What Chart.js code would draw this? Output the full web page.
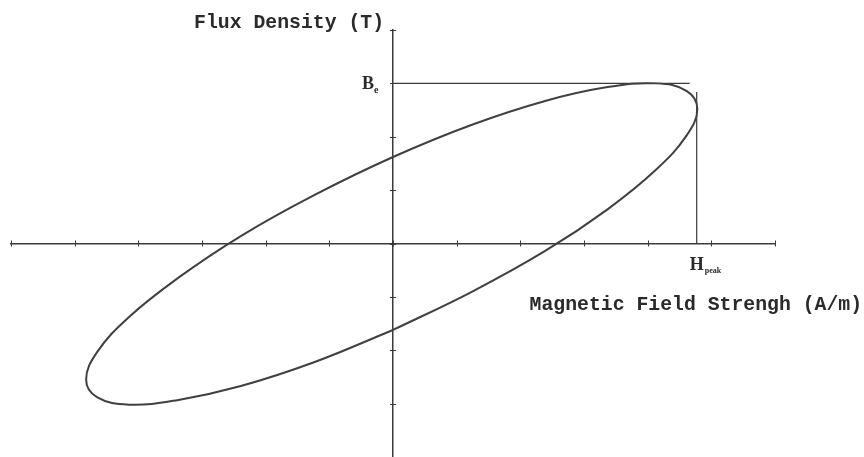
<!DOCTYPE html>
<html>
<head>
<meta charset="utf-8">
<script src="https://cdn.jsdelivr.net/npm/chart.js@4/dist/chart.umd.min.js"></script>
<style>
  body { margin: 0; background: #fff; }
  canvas { display: block; }
</style>
</head>
<body>
<canvas id="loop" width="864" height="457"></canvas>
<script>
// B-H loop, read round the curve (H in tick units, B in tick units)
let hField = [0, 1.23, 2.39, 3.37, 4.13, 4.61, 4.78, 4.61, 4.13, 3.37, 2.39, 1.23,
  0, -1.23, -2.39, -3.37, -4.15, -4.65, -4.82, -4.65, -4.15, -3.37, -2.39, -1.23, 0];
let bFlux = [-1.62, -0.91, -0.14, 0.64, 1.38, 2.02, 2.52, 2.86, 3.0, 2.93, 2.67, 2.22,
  1.62, 0.91, 0.14, -0.64, -1.38, -2.04, -2.55, -2.88, -3.02, -2.93, -2.67, -2.22, -1.62];

// marker lines for B peak and H peak
let bPeak = 3.0;
let bLineEnd = 4.66;
let hPeak = 4.77;
let hLineTop = 2.84;

// axis ranges (tick every unit)
let xMin = -6, xMax = 6;
let yMin = -4, yMax = 4;

let ink = "#3a3a3a";
let monoFont = "bold 19.8px 'Liberation Mono', monospace";

let loopPoints = hField.map(function (h, i) {
  return { x: h, y: bFlux[i] };
});

// small cross ticks on both axes
let crossTicks = {
  id: "crossTicks",
  afterDraw: function (chart) {
    let c = chart.ctx;
    let xs = chart.scales.x;
    let ys = chart.scales.y;
    let x0 = xs.getPixelForValue(0);
    let y0 = ys.getPixelForValue(0);
    c.save();
    c.strokeStyle = ink;
    c.lineWidth = 1;
    xs.ticks.forEach(function (t) {
      let px = Math.round(xs.getPixelForValue(t.value)) + 0.5;
      c.beginPath();
      c.moveTo(px, y0 - 3);
      c.lineTo(px, y0 + 3);
      c.stroke();
    });
    ys.ticks.forEach(function (t) {
      let py = Math.round(ys.getPixelForValue(t.value)) + 0.5;
      c.beginPath();
      c.moveTo(x0 - 3, py);
      c.lineTo(x0 + 3, py);
      c.stroke();
    });
    c.restore();
  }
};

// axis names and the B / H markers
let axisText = {
  id: "axisText",
  afterDraw: function (chart) {
    let c = chart.ctx;
    let xs = chart.scales.x;
    let ys = chart.scales.y;
    let x0 = xs.getPixelForValue(0);
    c.save();
    c.fillStyle = "#2a2a2a";
    c.textBaseline = "alphabetic";

    c.font = monoFont;
    c.textAlign = "right";
    c.fillText("Flux Density (T)", x0 - 9, 28);
    c.fillText("Magnetic Field Strengh (A/m)", 862, 310);

    // B with subscript
    let by = ys.getPixelForValue(bPeak);
    c.font = "bold 18px 'Liberation Serif', serif";
    c.textAlign = "left";
    c.fillText("B", x0 - 31, by + 6);
    c.font = "bold 10px 'Liberation Serif', serif";
    c.fillText("e", x0 - 19, by + 10);

    // H with subscript
    let hx = xs.getPixelForValue(hPeak);
    let y0 = ys.getPixelForValue(0);
    c.font = "bold 18px 'Liberation Serif', serif";
    c.fillText("H", hx - 7, y0 + 26);
    c.font = "bold 8px 'Liberation Serif', serif";
    c.fillText("peak", hx + 8, y0 + 29);
    c.restore();
  }
};

let ctx = document.getElementById("loop").getContext("2d");
new Chart(ctx, {
  type: "scatter",
  data: {
    datasets: [
      {
        data: loopPoints,
        showLine: true,
        borderColor: "#404040",
        borderWidth: 2,
        pointRadius: 0,
        tension: 0.4,
        fill: false
      },
      {
        data: [{ x: 0, y: bPeak }, { x: bLineEnd, y: bPeak }],
        showLine: true,
        borderColor: ink,
        borderWidth: 1.4,
        pointRadius: 0
      },
      {
        data: [{ x: hPeak, y: 0 }, { x: hPeak, y: hLineTop }],
        showLine: true,
        borderColor: ink,
        borderWidth: 1.2,
        pointRadius: 0
      }
    ]
  },
  options: {
    responsive: false,
    animation: false,
    layout: { padding: { left: 11, right: 89, top: 30, bottom: 0 } },
    plugins: {
      legend: { display: false },
      tooltip: { enabled: false }
    },
    scales: {
      x: {
        type: "linear",
        position: { y: 0 },
        min: xMin,
        max: xMax,
        ticks: { display: false, stepSize: 1 },
        grid: { display: true, drawOnChartArea: false, drawTicks: false },
        border: { color: ink, width: 1.5 }
      },
      y: {
        type: "linear",
        position: { x: 0 },
        min: yMin,
        max: yMax,
        ticks: { display: false, stepSize: 1 },
        grid: { display: true, drawOnChartArea: false, drawTicks: false },
        border: { color: ink, width: 1.5 }
      }
    }
  },
  plugins: [crossTicks, axisText]
});
</script>
</body>
</html>
